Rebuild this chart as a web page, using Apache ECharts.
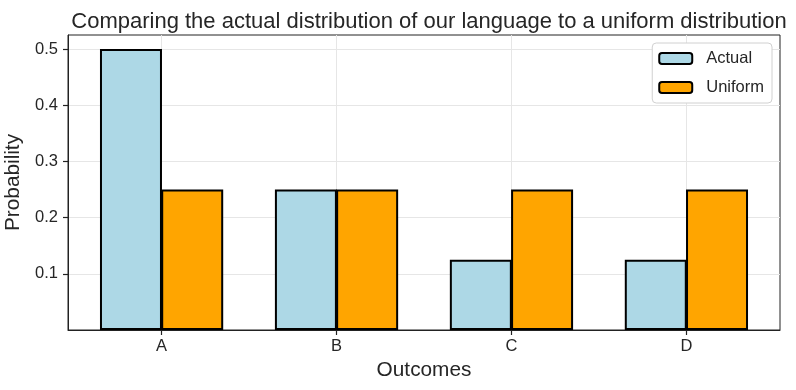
<!DOCTYPE html>
<html><head><meta charset="utf-8">
<script src="https://cdn.jsdelivr.net/npm/echarts@6/dist/echarts.min.js"></script>
<style>html,body{margin:0;padding:0;background:#fff}#c{width:796px;height:390px}</style>
</head><body><div id="c"></div>
<script>
const categories = ['A', 'B', 'C', 'D'];
const actualValues = [0.5, 0.25, 0.125, 0.125];
const uniformValues = [0.25, 0.25, 0.25, 0.25];
const yTicks = [0.1, 0.2, 0.3, 0.4, 0.5];
const barHalf = 0.175;

const chart = echarts.init(document.getElementById('c'), null, {renderer: 'canvas'});
const font = 'Liberation Sans, Arial, sans-serif';
const catIdx = categories.map((c, i) => i);
chart.setOption({
  animation: false,
  title: {
    text: 'Comparing the actual distribution of our language to a uniform distribution',
    left: 424, top: 6, textAlign: 'center',
    textStyle: {fontFamily: font, fontSize: 22, fontWeight: 'normal', color: '#262626'}
  },
  legend: {
    right: 24, top: 43, orient: 'vertical', itemWidth: 33, itemHeight: 11, itemGap: 12,
    padding: [7, 8, 7, 6],
    borderColor: '#d0d0d0', borderWidth: 1, borderRadius: 4, backgroundColor: '#fff',
    textStyle: {fontFamily: font, fontSize: 16.5, color: '#262626', padding: [0, 0, 0, 9]},
    data: [{name: 'Actual', itemStyle: {color: '#ADD8E6', borderColor: '#000', borderWidth: 2}},
           {name: 'Uniform', itemStyle: {color: '#FFA500', borderColor: '#000', borderWidth: 2}}]
  },
  grid: {left: 68, right: 16, top: 35, bottom: 60, show: true, borderColor: '#222', borderWidth: 1,
         containLabel: false, outerBoundsMode: 'none'},
  xAxis: {
    type: 'value', min: -0.535, max: 3.535,
    name: 'Outcomes', nameLocation: 'middle', nameGap: 28,
    nameTextStyle: {fontFamily: font, fontSize: 20.8, color: '#262626'},
    axisLine: {show: true, onZero: false, lineStyle: {color: '#222', width: 1}},
    axisTick: {show: true, inside: false, customValues: catIdx, length: 5, lineStyle: {color: '#222', width: 1.2}},
    axisLabel: {customValues: catIdx, formatter: v => categories[Math.round(v)], fontFamily: font, fontSize: 16.5, color: '#262626', margin: 8},
    splitLine: {show: true, lineStyle: {color: '#e6e6e6', width: 1}}
  },
  yAxis: {
    type: 'value', min: 0, max: 0.525,
    name: 'Probability', nameLocation: 'middle', nameGap: 40,
    nameTextStyle: {fontFamily: font, fontSize: 20.8, color: '#262626'},
    axisLine: {show: true, onZero: false, lineStyle: {color: '#222', width: 1}},
    axisTick: {show: true, inside: false, customValues: yTicks, length: 5, lineStyle: {color: '#222', width: 1.2}},
    axisLabel: {customValues: yTicks, formatter: v => v.toFixed(1), fontFamily: font, fontSize: 16.5, color: '#262626', margin: 10},
    splitLine: {show: true, lineStyle: {color: '#e6e6e6', width: 1}}
  },
  series: [
    {name: 'Actual', type: 'bar', barWidth: 62, barGap: '-100%',
     itemStyle: {color: '#ADD8E6', borderColor: '#000', borderWidth: 2},
     data: actualValues.map((v, i) => [i - barHalf, v])},
    {name: 'Uniform', type: 'bar', barWidth: 62, barGap: '-100%',
     itemStyle: {color: '#FFA500', borderColor: '#000', borderWidth: 2},
     data: uniformValues.map((v, i) => [i + barHalf, v])}
  ]
});
</script></body></html>
